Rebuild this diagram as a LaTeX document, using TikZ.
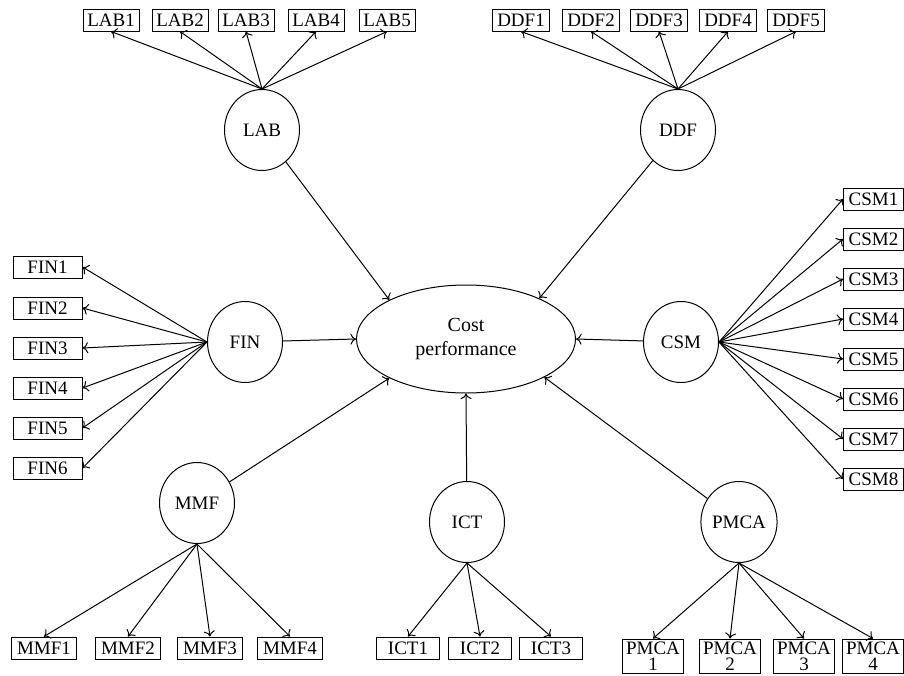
\documentclass[tikz,border=0pt]{standalone}
\usepackage{fontspec}
\setmainfont{Liberation Serif}
\usetikzlibrary{shapes.geometric,arrows.meta}

\newcommand{\figfont}{\fontsize{9.5}{8}\selectfont}

\tikzset{
  latent/.style={draw, ellipse, line width=0.5pt, minimum width=37.5pt, minimum height=40.5pt, inner sep=0pt, font=\figfont},
  indic/.style={draw, rectangle, line width=0.5pt, inner xsep=2pt, inner ysep=1pt, minimum height=11pt, font=\figfont},
  path/.style={-{To[length=2.8pt,width=5.5pt]}, line width=0.5pt}
}

\begin{document}
\begin{tikzpicture}[x=0.5pt,y=0.5pt,yscale=-1,xscale=1]
  \useasboundingbox (0,0) rectangle (904,675);

  % Latent Nodes
  \node [latent, minimum width=109.5pt, minimum height=54pt, align=center, font=\fontsize{10}{12}\selectfont] (cost) at (466,339) {Cost\\performance};
  \node [latent] (lab) at (262,130) {LAB};
  \node [latent] (ddf) at (678,130) {DDF};
  \node [latent] (fin) at (245,342) {FIN};
  \node [latent] (csm) at (681,342) {CSM};
  \node [latent] (mmf) at (197,503) {MMF};
  \node [latent] (ict) at (467,522) {ICT};
  \node [latent] (pmca) at (739,522) {PMCA};

  % Indicator Boxes: LAB
  \node [indic, minimum width=28pt] (lab1) at (111,20) {LAB1};
  \node [indic, minimum width=28pt] (lab2) at (180,20) {LAB2};
  \node [indic, minimum width=28pt] (lab3) at (246,20) {LAB3};
  \node [indic, minimum width=28pt] (lab4) at (316,20) {LAB4};
  \node [indic, minimum width=28pt] (lab5) at (387,20) {LAB5};
  % Indicator Boxes: DDF
  \node [indic, minimum width=28.5pt] (ddf1) at (521,20) {DDF1};
  \node [indic, minimum width=28.5pt] (ddf2) at (591,20) {DDF2};
  \node [indic, minimum width=28.5pt] (ddf3) at (659,20) {DDF3};
  \node [indic, minimum width=28.5pt] (ddf4) at (728,20) {DDF4};
  \node [indic, minimum width=28.5pt] (ddf5) at (796,20) {DDF5};
  % Indicator Boxes: FIN
  \node [indic, minimum width=34.5pt] (fin1) at (47.5,267) {FIN1};
  \node [indic, minimum width=34.5pt] (fin2) at (47.5,308) {FIN2};
  \node [indic, minimum width=34.5pt] (fin3) at (47.5,348) {FIN3};
  \node [indic, minimum width=34.5pt] (fin4) at (47.5,388) {FIN4};
  \node [indic, minimum width=34.5pt] (fin5) at (47.5,428) {FIN5};
  \node [indic, minimum width=34.5pt] (fin6) at (47.5,468) {FIN6};
  % Indicator Boxes: CSM
  \node [indic, minimum width=30pt, anchor=west] (csm1) at (843,199) {CSM1};
  \node [indic, minimum width=30pt, anchor=west] (csm2) at (843,239) {CSM2};
  \node [indic, minimum width=30pt, anchor=west] (csm3) at (843,279) {CSM3};
  \node [indic, minimum width=30pt, anchor=west] (csm4) at (843,319) {CSM4};
  \node [indic, minimum width=30pt, anchor=west] (csm5) at (843,359) {CSM5};
  \node [indic, minimum width=30pt, anchor=west] (csm6) at (843,399) {CSM6};
  \node [indic, minimum width=30pt, anchor=west] (csm7) at (843,439) {CSM7};
  \node [indic, minimum width=30pt, anchor=west] (csm8) at (843,479) {CSM8};
  % Indicator Boxes: MMF
  \node [indic, minimum width=32.5pt] (mmf1) at (44,648) {MMF1};
  \node [indic, minimum width=32.5pt] (mmf2) at (128,648) {MMF2};
  \node [indic, minimum width=32.5pt] (mmf3) at (210,648) {MMF3};
  \node [indic, minimum width=32.5pt] (mmf4) at (290,648) {MMF4};
  % Indicator Boxes: ICT
  \node [indic, minimum width=31.5pt] (ict1) at (408,648) {ICT1};
  \node [indic, minimum width=31.5pt] (ict2) at (480,648) {ICT2};
  \node [indic, minimum width=31.5pt] (ict3) at (551,648) {ICT3};
  % Indicator Boxes: PMCA
  \node [indic, minimum width=30pt, minimum height=17pt, inner ysep=0.5pt, align=center] (pmca1) at (653,656) {PMCA\\1};
  \node [indic, minimum width=30pt, minimum height=17pt, inner ysep=0.5pt, align=center] (pmca2) at (730,656) {PMCA\\2};
  \node [indic, minimum width=30pt, minimum height=17pt, inner ysep=0.5pt, align=center] (pmca3) at (804,656) {PMCA\\3};
  \node [indic, minimum width=30pt, minimum height=17pt, inner ysep=0.5pt, align=center] (pmca4) at (873,656) {PMCA\\4};

  % Structural Paths
  \draw [path] (lab) -- (cost.153);
  \draw [path] (ddf) -- (cost.29);
  \draw [path] (fin) -- (cost.west);
  \draw [path] (csm) -- (cost.east);
  \draw [path] (mmf) -- (cost.207);
  \draw [path] (ict) -- (cost.south);
  \draw [path] (pmca) -- (cost.334);

  % Loadings
  \draw [path] (lab.north) -- (lab1.south);
  \draw [path] (lab.north) -- (lab2.south);
  \draw [path] (lab.north) -- (lab3.south);
  \draw [path] (lab.north) -- (lab4.south);
  \draw [path] (lab.north) -- (lab5.south);
  \draw [path] (ddf.north) -- (ddf1.south);
  \draw [path] (ddf.north) -- (ddf2.south);
  \draw [path] (ddf.north) -- (ddf3.south);
  \draw [path] (ddf.north) -- (ddf4.south);
  \draw [path] (ddf.north) -- (ddf5.south);
  \draw [path] (fin.west) -- (fin1.east);
  \draw [path] (fin.west) -- (fin2.east);
  \draw [path] (fin.west) -- (fin3.east);
  \draw [path] (fin.west) -- (fin4.east);
  \draw [path] (fin.west) -- (fin5.east);
  \draw [path] (fin.west) -- (fin6.east);
  \draw [path] (csm.east) -- (csm1.west);
  \draw [path] (csm.east) -- (csm2.west);
  \draw [path] (csm.east) -- (csm3.west);
  \draw [path] (csm.east) -- (csm4.west);
  \draw [path] (csm.east) -- (csm5.west);
  \draw [path] (csm.east) -- (csm6.west);
  \draw [path] (csm.east) -- (csm7.west);
  \draw [path] (csm.east) -- (csm8.west);
  \draw [path] (mmf.south) -- (mmf1.north);
  \draw [path] (mmf.south) -- (mmf2.north);
  \draw [path] (mmf.south) -- (mmf3.north);
  \draw [path] (mmf.south) -- (mmf4.north);
  \draw [path] (ict.south) -- (ict1.north);
  \draw [path] (ict.south) -- (ict2.north);
  \draw [path] (ict.south) -- (ict3.north);
  \draw [path] (pmca.south) -- (pmca1.north);
  \draw [path] (pmca.south) -- (pmca2.north);
  \draw [path] (pmca.south) -- (pmca3.north);
  \draw [path] (pmca.south) -- (pmca4.north);
\end{tikzpicture}
\end{document}
